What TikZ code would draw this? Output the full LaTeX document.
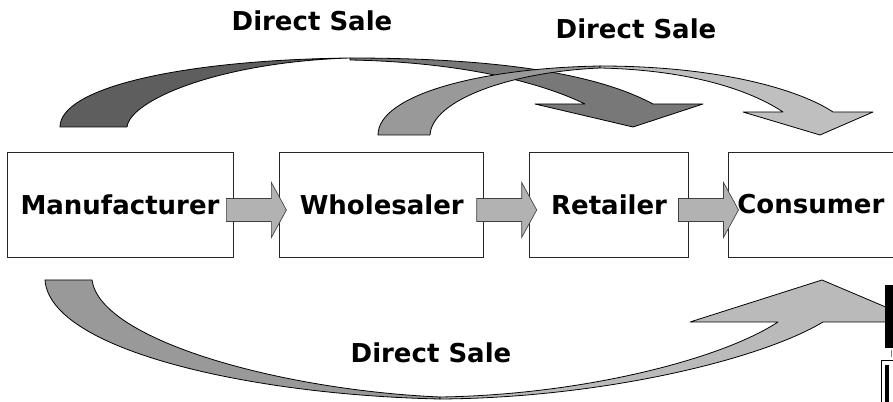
\documentclass[tikz,border=0pt]{standalone}
\usepackage{fontspec}
\setmainfont{DejaVu Sans}
\usetikzlibrary{positioning,calc}
\begin{document}
\begin{tikzpicture}[x=0.75pt,y=-0.75pt,
   box/.style={draw=black!85,line width=0.6pt,minimum height=78.75pt,
     inner sep=0pt,font=\bfseries\fontsize{19.5}{23}\selectfont},
   blockarr/.style={draw=black!75,line width=0.5pt,fill=black!30},
   band/.style={draw=black,line width=0.6pt,line join=round},
   lbl/.style={font=\bfseries\fontsize{19.5}{23}\selectfont}]
   \useasboundingbox (0,0) rectangle (893,402);
   \clip (0,0) rectangle (893,402);

   % upper arrow, manufacturer to retailer
   \draw[band,fill=black!63] (60,127) .. controls (60,88) and (180,60) .. (350,58)
     .. controls (220,62) and (130,100) .. (127,127) -- cycle;
   \draw[band,fill=black!53] (350,58) .. controls (480,58) and (590,70) .. (653,104)
     -- (703,104) -- (633,127) -- (535,104) -- (585,104)
     .. controls (540,82) and (460,62) .. (350,60) -- cycle;

   % upper arrow, wholesaler to consumer
   \draw[band,fill=black!40] (378,135) .. controls (378,95) and (480,68) .. (600,66)
     -- (600,68) .. controls (510,72) and (432,100) .. (430,135) -- cycle;
   \draw[band,fill=black!25] (600,66) .. controls (720,66) and (800,90) .. (833,112)
     -- (873,112) -- (820,135) -- (743,112) -- (783,112)
     .. controls (750,90) and (690,70) .. (600,68) -- cycle;

   % lower arrow, manufacturer to consumer
   \draw[band,fill=black!40] (45,280) .. controls (50,350) and (250,395) .. (440,399)
     -- (440,397) .. controls (280,390) and (100,340) .. (92,280) -- cycle;
   \draw[band,fill=black!27] (440,399) .. controls (600,398) and (760,360) .. (823,322)
     -- (921,322) -- (822,280) -- (690,322) -- (778,322)
     .. controls (720,360) and (580,395) .. (440,397) -- cycle;

   \node[box,minimum width=169.5pt] (man) at (120,204.5) {Manufacturer};
   \node[box,minimum width=153pt,right=34.5pt of man] (whole) {Wholesaler};
   \node[box,minimum width=119.25pt,right=33.75pt of whole] (ret) {Retailer};
   \node[box,minimum width=123.75pt,right=29.25pt of ret] (cons) {Consumer};

   \foreach \a/\b in {man/whole,whole/ret,ret/cons}
     \draw[blockarr] ($(\a.east)!.5!(\b.west)+(-30,-6)$) -- ++(45,0) -- ++(0,-16)
       -- ++(15,27.5) -- ++(-15,27.5) -- ++(0,-16) -- ++(-45,0) -- cycle;

   \node[lbl] (ds1) at (312,21) {Direct Sale};
   \node[lbl] (ds2) at (636,29) {Direct Sale};
   \node[lbl] (ds3) at (431,353) {Direct Sale};

   \fill[black] (885,285) rectangle (895,348);
   \draw[black!50,line width=0.5pt] (891,350) -- (891,357);
   \draw[black,line width=0.8pt] (881.5,360.5) rectangle (900,410);
   \fill[black] (885,365) rectangle (889,410);
\end{tikzpicture}
\end{document}
